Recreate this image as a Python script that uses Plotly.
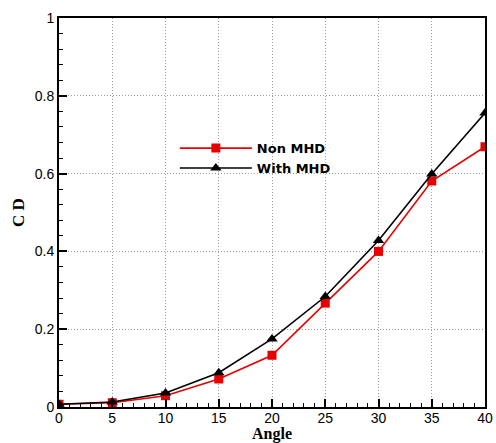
import plotly.graph_objects as go

# Drag coefficient versus angle of attack
angle = [0, 5, 10, 15, 20, 25, 30, 35, 40]
cd_non_mhd = [0.007, 0.011, 0.029, 0.072, 0.133, 0.267, 0.400, 0.581, 0.669]
cd_with_mhd = [0.007, 0.013, 0.036, 0.088, 0.175, 0.284, 0.428, 0.599, 0.756]
series_names = ["Non MHD", "With MHD"]
x_ticks = [0, 5, 10, 15, 20, 25, 30, 35, 40]
y_ticks = [0, 0.2, 0.4, 0.6, 0.8, 1]
y_tick_text = ["0", "0.2", "0.4", "0.6", "0.8", "1"]

RED = "#e60000"
BLACK = "#000000"

fig = go.Figure()
fig.add_trace(go.Scatter(
    x=angle, y=cd_non_mhd, name=series_names[0], mode="lines+markers",
    line=dict(color=RED, width=1.6),
    marker=dict(symbol="square", size=9, color=RED),
))
fig.add_trace(go.Scatter(
    x=angle, y=cd_with_mhd, name=series_names[1], mode="lines+markers",
    line=dict(color=BLACK, width=1.6),
    marker=dict(symbol="triangle-up", size=10, color=BLACK),
))

axis_common = dict(
    showline=True, linecolor="black", linewidth=2, mirror=True,
    ticks="inside", ticklen=8, tickwidth=1.5, tickcolor="black",
    showgrid=True, gridcolor="#a0a0a0", gridwidth=1, griddash="1px,2px",
    zeroline=False, automargin=False,
    tickfont=dict(family="Liberation Sans, Arial, sans-serif", size=14, color="black"),
)

fig.update_xaxes(
    range=[0, 40], tickvals=x_ticks, ticklabelstandoff=-3,
    minor=dict(ticks="inside", ticklen=4, dtick=1, tickcolor="black", tickwidth=1, showgrid=False),
    title=dict(text="<b>Angle</b>", standoff=8,
               font=dict(family="Liberation Serif, Times New Roman, serif", size=16, color="black")),
    **axis_common,
)
fig.update_yaxes(
    range=[0, 1], tickvals=y_ticks, ticktext=y_tick_text,
    minor=dict(ticks="inside", ticklen=4, dtick=0.04, tickcolor="black", tickwidth=1, showgrid=False),
    title=dict(text="<b>C D</b>", standoff=6,
               font=dict(family="Liberation Serif, Times New Roman, serif", size=17, color="black")),
    **axis_common,
)

fig.update_layout(
    width=496, height=443,
    margin=dict(l=59, r=11, t=18, b=36),
    paper_bgcolor="white", plot_bgcolor="white",
    showlegend=True,
    legend=dict(
        x=0.272, y=0.704, xanchor="left", yanchor="top",
        bgcolor="rgba(0,0,0,0)", borderwidth=0,
        itemwidth=72, tracegroupgap=0,
        font=dict(family="DejaVu Sans, Arial, sans-serif", size=13, color="black", weight="bold"),
    ),
)

fig.write_html("out.html")
